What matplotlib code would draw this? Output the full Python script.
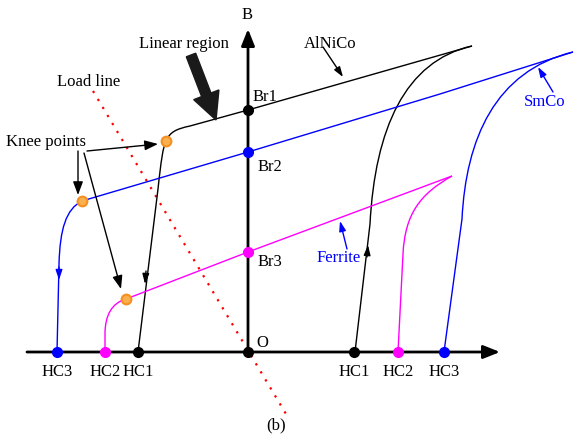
import numpy as np
import matplotlib.pyplot as plt
from matplotlib.path import Path
from matplotlib.patches import PathPatch, FancyArrow

plt.rcParams['font.family'] = ['Liberation Serif', 'DejaVu Serif']
FS = 12

# schemat w jednostkach obrazka (piksele), os y w dol
origin = (248, 353)
h_axis = [(27, 353), (500, 353)]
b_axis = [(248, 353), (248, 30)]

# punkty Br na osi B
br_y = [111, 153, 253]
br_col = ['black', 'blue', 'magenta']
br_lab = ['Br1', 'Br2', 'Br3']
br_lab_pos = [(265, 97), (270, 167), (270, 262)]

# punkty Hc (lewa i prawa strona)
hc_left_x = [138, 105, 57]
hc_right_x = [354, 398, 444]
hc_col = ['black', 'magenta', 'blue']
hc_lab = ['HC1', 'HC2', 'HC3']

# punkty kolanowe
knee_x = [166, 82, 126]
knee_y = [142, 202, 300]

# krzywe (wezly Beziera)
M, L, C = Path.MOVETO, Path.LINETO, Path.CURVE4
alnico_left = [((138, 353), M), ((158, 190), L), ((161, 162), C), ((163, 148), C), ((166, 142), C),
               ((170, 133), C), ((176, 130), C), ((190, 127), C), ((248, 111), L), ((472, 47), L)]
alnico_right = [((355, 353), M), ((370, 225), L), ((375, 130), C), ((405, 62), C), ((472, 47), C)]
smco_left = [((57, 353), M), ((59, 265), L), ((60, 230), C), ((66, 210), C), ((82, 202), C),
             ((248, 153), L), ((440, 95), L), ((573, 53), L)]
smco_right = [((444, 353), M), ((462, 220), L), ((466, 140), C), ((495, 72), C), ((573, 53), C)]
ferrite_left = [((105, 353), M), ((105, 335), L), ((105, 316), C), ((112, 304), C), ((126, 300), C),
                ((248, 253), L), ((452, 177), L)]
ferrite_right = [((398, 353), M), ((403, 255), L), ((405, 215), C), ((420, 195), C), ((452, 177), C)]

curves = [(alnico_left, 'black'), (alnico_right, 'black'), (smco_left, 'blue'),
          (smco_right, 'blue'), (ferrite_left, 'magenta'), (ferrite_right, 'magenta')]

# male strzalki na krzywych (od, do)
curve_arrows = [((146, 272), (145, 285), 'black'), ((59, 268), (59, 281), 'blue'),
                ((367, 258), (368, 246), 'black')]

load_line = [(93, 92), (286, 415)]

fig = plt.figure(figsize=(5.82, 4.39), dpi=100)
ax = fig.add_axes([0, 0, 1, 1])
ax.set_xlim(0, 582)
ax.set_ylim(439, 0)
ax.axis('off')

# osie
ax.annotate('', xy=h_axis[1], xytext=h_axis[0],
            arrowprops=dict(arrowstyle='-|>,head_length=1.0,head_width=0.4', lw=2, color='black',
                            shrinkA=0, shrinkB=0))
ax.annotate('', xy=b_axis[1], xytext=b_axis[0],
            arrowprops=dict(arrowstyle='-|>,head_length=1.0,head_width=0.4', lw=2, color='black',
                            shrinkA=0, shrinkB=0))
ax.text(247, 15, 'B', ha='center', va='center', fontsize=FS)
ax.text(262, 343, 'O', ha='center', va='center', fontsize=FS)

# krzywe
for pts, col in curves:
    verts = [p for p, c in pts]
    codes = [c for p, c in pts]
    ax.add_patch(PathPatch(Path(verts, codes), fill=False, edgecolor=col, lw=1.0, zorder=3))

for a, b, col in curve_arrows:
    ax.annotate('', xy=b, xytext=a,
                arrowprops=dict(arrowstyle='-|>,head_length=0.6,head_width=0.2', lw=1, color=col,
                                shrinkA=0, shrinkB=0), zorder=4)

# prosta obciazenia
ax.plot([load_line[0][0], load_line[1][0]], [load_line[0][1], load_line[1][1]],
        color='red', lw=1.6, linestyle=(0, (1, 3.2)), zorder=2)

# punkty
ax.plot(origin[0], origin[1], 'o', color='black', ms=7, zorder=5)
for y, col, lab, pos in zip(br_y, br_col, br_lab, br_lab_pos):
    ax.plot(248, y, 'o', color=col, ms=7, zorder=5)
    ax.text(pos[0], pos[1], lab, ha='center', va='center', fontsize=FS)
for xl, xr, col, lab in zip(hc_left_x, hc_right_x, hc_col, hc_lab):
    ax.plot([xl, xr], [353, 353], 'o', color=col, ms=7, zorder=5, lw=0)
    ax.text(xl, 372, lab, ha='center', va='center', fontsize=FS)
    ax.text(xr, 372, lab, ha='center', va='center', fontsize=FS)
ax.plot(knee_x, knee_y, 'o', ms=7, mfc='#fbb050', mec='#f39020', mew=1.5, lw=0, zorder=6)

# opisy
ax.text(184, 44, 'Linear region', ha='center', va='center', fontsize=FS)
ax.add_patch(FancyArrow(191, 56, 25, 65, width=10, head_width=27, head_length=27,
                        length_includes_head=True, color='#1a1a1a', zorder=4))
ax.text(89, 82, 'Load line', ha='center', va='center', fontsize=FS)
ax.text(46, 142, 'Knee points', ha='center', va='center', fontsize=FS)
knee_arrows = [((87, 152), (158, 145)), ((78, 152), (78, 196)), ((84, 154), (121, 290))]
for a, b in knee_arrows:
    ax.annotate('', xy=b, xytext=a,
                arrowprops=dict(arrowstyle='-|>,head_length=0.8,head_width=0.3', lw=1, color='black',
                                shrinkA=0, shrinkB=0))

ax.text(330, 44, 'AlNiCo', ha='center', va='center', fontsize=FS)
ax.annotate('', xy=(343, 78), xytext=(323, 48),
            arrowprops=dict(arrowstyle='-|>,head_length=0.6,head_width=0.2', lw=1, color='black',
                            shrinkA=0, shrinkB=0))
ax.text(545, 102, 'SmCo', ha='center', va='center', fontsize=FS, color='blue')
ax.annotate('', xy=(538, 68), xytext=(553, 93),
            arrowprops=dict(arrowstyle='-|>,head_length=0.6,head_width=0.2', lw=1, color='blue',
                            shrinkA=0, shrinkB=0))
ax.text(339, 258, 'Ferrite', ha='center', va='center', fontsize=FS, color='blue')
ax.annotate('', xy=(340, 222), xytext=(347, 250),
            arrowprops=dict(arrowstyle='-|>,head_length=0.6,head_width=0.2', lw=1, color='blue',
                            shrinkA=0, shrinkB=0))

ax.text(276, 425, '(b)', ha='center', va='center', fontsize=FS)

fig.savefig('out.png', dpi=100)
